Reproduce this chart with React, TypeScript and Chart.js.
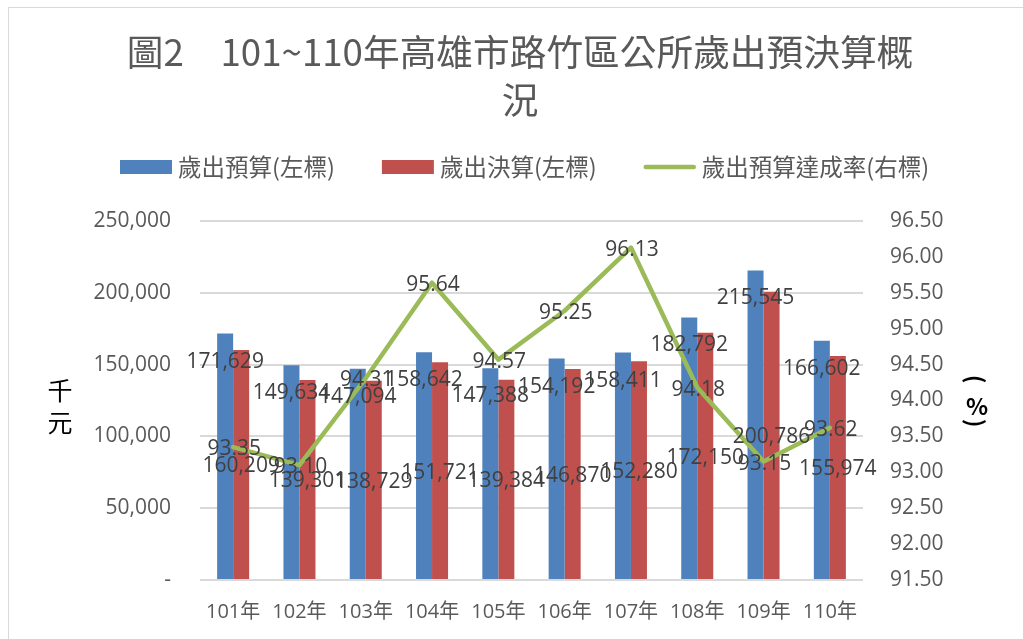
import React, { useEffect, useRef } from 'react';
import { Chart, registerables } from 'chart.js';

Chart.register(...registerables);

const categories = ['101年', '102年', '103年', '104年', '105年', '106年', '107年', '108年', '109年', '110年'];
const budget = [171629, 149634, 147094, 158642, 147388, 154192, 158411, 182792, 215545, 166602];
const actual = [160209, 139301, 138729, 151721, 139384, 146870, 152280, 172150, 200786, 155974];
const rate = [93.35, 93.1, 94.31, 95.64, 94.57, 95.25, 96.13, 94.18, 93.15, 93.62];
const seriesNames = ['歲出預算(左標)', '歲出決算(左標)', '歲出預算達成率(右標)'];
const titleLines = ['圖2　101~110年高雄市路竹區公所歲出預決算概', '況'];
const leftAxisTitle = ['千', '元'];
const rightAxisTitle = ['(', '%', ')'];
const leftMin = 0;
const leftMax = 250000;
const leftStep = 50000;
const rightMin = 91.5;
const rightMax = 96.5;
const rightStep = 0.5;

const BLUE = '#4F81BD';
const RED = '#C0504D';
const GREEN = '#9BBB59';
const GRAY = '#595959';
const LABEL = '#404040';
const CJK = '"Noto Sans CJK TC", "Noto Sans CJK SC", sans-serif';
const NUM = '"Open Sans", "Noto Sans CJK TC", sans-serif';

const fmt = (v: number) => (v === 0 ? '-' : v.toLocaleString('en-US'));

const decor = {
  id: 'decor',
  beforeDraw(chart: any) {
    const ctx = chart.ctx;
    ctx.save();
    ctx.fillStyle = '#ffffff';
    ctx.fillRect(0, 0, chart.width, chart.height);
    ctx.strokeStyle = '#d9d9d9';
    ctx.lineWidth = 1;
    ctx.strokeRect(8.5, 7.5, chart.width + 100, chart.height + 100);
    ctx.restore();
  },
  afterDatasetsDraw(chart: any) {
    const ctx = chart.ctx;
    ctx.save();
    ctx.font = `21px ${NUM}`;
    ctx.fillStyle = LABEL;
    ctx.textAlign = 'center';
    ctx.textBaseline = 'middle';
    const bMeta = chart.getDatasetMeta(1);
    const aMeta = chart.getDatasetMeta(2);
    const lMeta = chart.getDatasetMeta(0);
    bMeta.data.forEach((el: any, i: number) => {
      ctx.fillText(fmt(budget[i]), el.x, el.y + 28);
    });
    aMeta.data.forEach((el: any, i: number) => {
      ctx.fillText(fmt(actual[i]), el.x, (el.y + el.base) / 2 + 2);
    });
    lMeta.data.forEach((el: any, i: number) => {
      ctx.fillText(rate[i].toFixed(2), el.x + 1, el.y + 2);
    });
    ctx.restore();
  },
  afterDraw(chart: any) {
    const ctx = chart.ctx;
    ctx.save();
    // title
    ctx.fillStyle = GRAY;
    ctx.font = `36.7px ${CJK}`;
    ctx.textAlign = 'center';
    ctx.textBaseline = 'middle';
    titleLines.forEach((t, i) => ctx.fillText(t, 520, 52 + i * 48));
    // legend
    ctx.font = `23.5px ${CJK}`;
    ctx.textAlign = 'left';
    let x = 120;
    const y = 167;
    const colors = [BLUE, RED, GREEN];
    seriesNames.forEach((name, i) => {
      if (i < 2) {
        ctx.fillStyle = colors[i];
        ctx.fillRect(x, y - 7, 52, 14);
      } else {
        ctx.strokeStyle = colors[i];
        ctx.lineWidth = 4.5;
        ctx.lineCap = 'round';
        ctx.beginPath();
        ctx.moveTo(x + 2, y);
        ctx.lineTo(x + 50, y);
        ctx.stroke();
      }
      x += 58;
      ctx.fillStyle = GRAY;
      ctx.fillText(name, x, y);
      x += ctx.measureText(name).width + 47;
    });
    // left axis title (stacked)
    ctx.fillStyle = '#000000';
    ctx.font = `25px ${CJK}`;
    ctx.textAlign = 'center';
    leftAxisTitle.forEach((c, i) => ctx.fillText(c, 60, 390 + i * 32));
    // right axis title (vertical)
    ctx.font = `bold 23px ${CJK}`;
    rightAxisTitle.forEach((c, i) => {
      const cy = 379 + i * 22;
      if (c === '%') {
        ctx.fillText(c, 977, cy + 5);
      } else {
        ctx.save();
        ctx.translate(976, cy);
        ctx.rotate(Math.PI / 2);
        ctx.fillText(c, 0, 0);
        ctx.restore();
      }
    });
    ctx.restore();
  },
};

export default function App() {
  const ref = useRef<HTMLCanvasElement>(null);
  useEffect(() => {
    const chart = new Chart(ref.current as HTMLCanvasElement, {
      type: 'bar',
      data: {
        labels: categories,
        datasets: [
          {
            type: 'line',
            label: seriesNames[2],
            data: rate,
            yAxisID: 'y1',
            borderColor: GREEN,
            backgroundColor: GREEN,
            borderWidth: 4.5,
            pointRadius: 0,
            borderCapStyle: 'round',
            borderJoinStyle: 'round',
            tension: 0,
            order: 0,
          } as any,
          {
            label: seriesNames[0],
            data: budget,
            backgroundColor: BLUE,
            yAxisID: 'y',
            order: 1,
            categoryPercentage: 0.483,
            barPercentage: 1,
          },
          {
            label: seriesNames[1],
            data: actual,
            backgroundColor: RED,
            yAxisID: 'y',
            order: 1,
            categoryPercentage: 0.483,
            barPercentage: 1,
          },
        ],
      },
      options: {
        responsive: false,
        animation: false,
        devicePixelRatio: 1,
        layout: { padding: { top: 221, left: 0, right: 0, bottom: 0 } },
        plugins: {
          legend: { display: false },
          title: { display: false },
          tooltip: { enabled: false },
        },
        scales: {
          x: {
            grid: { display: false, drawTicks: false },
            border: { display: false },
            ticks: {
              font: { family: NUM, size: 20 },
              color: GRAY,
              padding: 20,
              maxRotation: 0,
              autoSkip: false,
            },
            afterFit: (s: any) => {
              s.height = 59;
            },
          },
          y: {
            position: 'left',
            min: leftMin,
            max: leftMax,
            ticks: {
              stepSize: leftStep,
              callback: (v: any) => fmt(Number(v)),
              font: { family: NUM, size: 21 },
              color: GRAY,
              padding: 29,
            },
            grid: { color: '#d9d9d9', lineWidth: 2, drawTicks: false },
            border: { display: false },
            afterFit: (s: any) => {
              s.width = 200;
            },
          },
          y1: {
            position: 'right',
            min: rightMin,
            max: rightMax,
            ticks: {
              stepSize: rightStep,
              callback: (v: any) => Number(v).toFixed(2),
              font: { family: NUM, size: 21 },
              color: GRAY,
              padding: 27,
            },
            grid: { display: false, drawTicks: false },
            border: { display: false },
            afterFit: (s: any) => {
              s.width = 160;
            },
          },
        },
      } as any,
      plugins: [decor],
    });
    return () => chart.destroy();
  }, []);
  return (
    <div style={{ position: 'fixed', left: 0, top: 0, width: 1023, height: 639, background: '#fff', overflow: 'hidden' }}>
      <canvas ref={ref} width={1023} height={639} style={{ display: 'block', width: 1023, height: 639 }} />
    </div>
  );
}
